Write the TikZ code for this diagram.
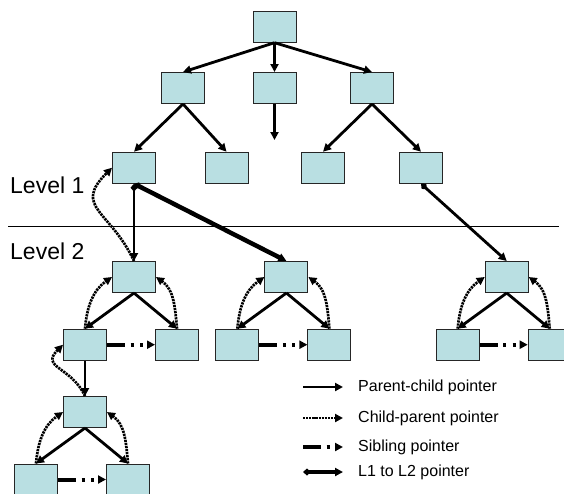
\documentclass[tikz,border=0pt]{standalone}
\usepackage{fontspec}
\setmainfont{Liberation Sans}
\usetikzlibrary{positioning,arrows.meta}
\definecolor{nodefill}{RGB}{185,223,226}

\begin{document}
\begin{tikzpicture}[x=1pt, y=1pt, on grid, auto]
  \tikzstyle{box} = [rectangle, draw=black!85, line width=1pt, fill=nodefill,
    minimum width=43pt, minimum height=31pt, inner sep=0pt]
  \tikzstyle{pc} = [draw, line width=2.8pt, -{Triangle[length=8pt,width=8pt]}]
  \tikzstyle{cp} = [draw, line width=2.7pt, dash pattern=on 2.2pt off 0.9pt,
    -{Triangle[length=8pt,width=8pt]}]
  \tikzstyle{sib} = [draw, line width=4pt,
    dash pattern=on 18pt off 5.5pt on 3pt off 6.5pt on 3pt off 20pt,
    -{Triangle[length=8pt,width=8pt]}]
  \tikzstyle{lvl} = [draw, line width=2.8pt,
    {Diamond[length=8pt,width=7pt]}-{Triangle[length=8pt,width=8pt]}]
  \tikzstyle{lvltext} = [font=\fontsize{23}{27}\selectfont, anchor=west, inner sep=0pt]
  \tikzstyle{keytext} = [font=\fontsize{16}{19}\selectfont, anchor=west, inner sep=0pt]

  \useasboundingbox (0,0) rectangle (564,-493);

  % Level 1 tree
  \node [box] (root) at (274.5,-26.7) {};
  \node [box, below left=61.3pt and 91.5pt of root] (a1) {};
  \node [box, below=61.3pt of root] (a2) {};
  \node [box, below right=61.3pt and 97.5pt of root] (a3) {};
  \node [box, below left=79.7pt and 49pt of a1] (b1) {};
  \node [box, below right=79.7pt and 43.5pt of a1] (b2) {};
  \node [box, below left=79.7pt and 49pt of a3] (b3) {};
  \node [box, below right=79.7pt and 49pt of a3] (b4) {};
  \coordinate [below=36pt of a2.south] (a2end);

  % Level divider and labels
  \coordinate (lineL) at (8,-226);
  \coordinate (lineR) at (559,-226);
  \node [lvltext] (lev1) at (10,-185) {Level 1};
  \node [lvltext] (lev2) at (10,-251) {Level 2};

  % Level 2 trees
  \node [box, below=109.3pt of b1] (c1) {};
  \node [box, right=152.4pt of c1] (c2) {};
  \node [box, right=220.3pt of c2] (c3) {};
  \node [box, below left=67.7pt and 49pt of c1] (c1l) {};
  \node [box, below right=67.7pt and 43pt of c1] (c1r) {};
  \node [box, below left=67.7pt and 49pt of c2] (c2l) {};
  \node [box, below right=67.7pt and 43pt of c2] (c2r) {};
  \node [box, below left=67.7pt and 49pt of c3] (c3l) {};
  \node [box, below right=67.7pt and 43pt of c3] (c3r) {};
  \node [box, below=67.3pt of c1l] (d1) {};
  \node [box, below left=67.5pt and 49pt of d1] (d1l) {};
  \node [box, below right=67.5pt and 43pt of d1] (d1r) {};

  % Legend
  \node [keytext] (k1) at (358,-387) {Parent-child pointer};
  \node [keytext] (k2) at (358,-418) {Child-parent pointer};
  \node [keytext] (k3) at (358,-447) {Sibling pointer};
  \node [keytext] (k4) at (358,-472) {L1 to L2 pointer};
  \coordinate [left=55pt of k1.west] (k1s);
  \coordinate [left=55pt of k2.west] (k2s);
  \coordinate [left=55pt of k3.west] (k3s);
  \coordinate [left=55pt of k4.west] (k4s);

  % Draw edges
  \draw [line width=0.8pt] (lineL) -- (lineR);

  \path [pc] (root.south) -- (a1.north);
  \path [pc] (root.south) -- (a2.north);
  \path [pc] (root.south) -- (a3.north);
  \path [pc] (a1.south) -- (b1.north);
  \path [pc] (a1.south) -- (b2.north);
  \path [pc] (a3.south) -- (b3.north);
  \path [pc] (a3.south) -- (b4.north);
  \path [pc, line width=3.4pt] (a2.south) -- (a2end);

  \path [lvl] (b1.south) -- (c1.north);
  \path [lvl, line width=4.5pt] (b1.south) -- (c2.north);
  \path [lvl] (b4.south) -- (c3.north);
  \path [cp] (c1.north) to [out=115, in=225, looseness=1.5] (b1.west);

  \path [pc] (c1.south) -- (c1l.north);
  \path [pc] (c1.south) -- (c1r.north);
  \path [cp] (c1l.north) to [out=85, in=215] (c1.west);
  \path [cp] (c1r.north) to [out=95, in=-35] (c1.east);
  \path [sib] (c1l.east) -- (c1r.west);

  \path [pc] (c2.south) -- (c2l.north);
  \path [pc] (c2.south) -- (c2r.north);
  \path [cp] (c2l.north) to [out=85, in=215] (c2.west);
  \path [cp] (c2r.north) to [out=95, in=-35] (c2.east);
  \path [sib] (c2l.east) -- (c2r.west);

  \path [pc] (c3.south) -- (c3l.north);
  \path [pc] (c3.south) -- (c3r.north);
  \path [cp] (c3l.north) to [out=85, in=215] (c3.west);
  \path [cp] (c3r.north) to [out=95, in=-35] (c3.east);
  \path [sib] (c3l.east) -- (c3r.west);

  \path [pc] (c1l.south) -- (d1.north);
  \path [cp] (d1.north) to [out=115, in=225, looseness=1.5] (c1l.west);

  \path [pc] (d1.south) -- (d1l.north);
  \path [pc] (d1.south) -- (d1r.north);
  \path [cp] (d1l.north) to [out=85, in=215] (d1.west);
  \path [cp] (d1r.north) to [out=95, in=-35] (d1.east);
  \path [sib] (d1l.east) -- (d1r.west);

  \path [pc, shorten >=15pt] (k1s) -- (k1);
  \path [cp, shorten >=15pt] (k2s) -- (k2);
  \path [sib, shorten >=15pt] (k3s) -- (k3);
  \path [lvl, line width=3.4pt, shorten >=15pt] (k4s) -- (k4);
\end{tikzpicture}
\end{document}
